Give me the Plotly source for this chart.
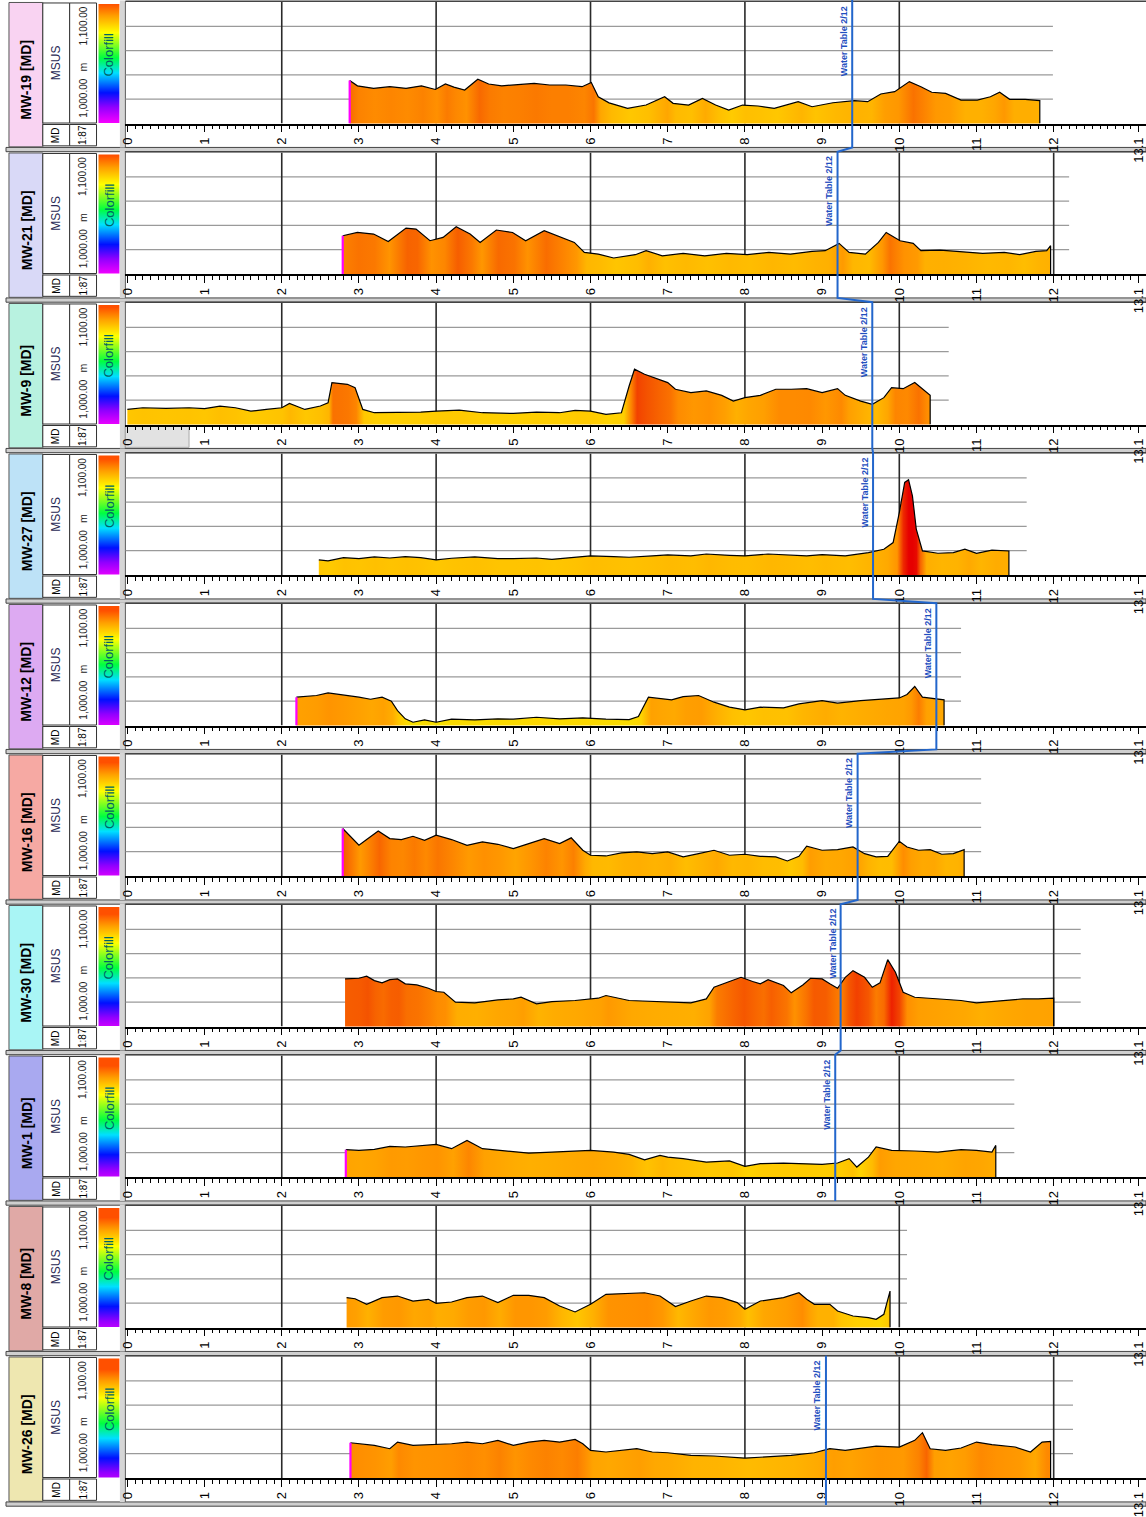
import plotly.graph_objects as go

W, H = 1146, 1517
NP = 10
PH = H / NP

WELLS = ["MW-19", "MW-21", "MW-9", "MW-27", "MW-12", "MW-16", "MW-30", "MW-1", "MW-8", "MW-26"]
HEADER_FILL = ["#F9D3F2", "#D9D9F7", "#B8F2E0", "#BDE2F7", "#DDAAF2",
               "#F6A9A3", "#A9F5F5", "#A9A9F0", "#E0A9A6", "#EEE7B0"]
WATER_TABLE = [9.39, 9.20, 9.65, 9.66, 10.48, 9.46, 9.24, 9.17, None, 9.05]
TRACK_END = [11.99, 12.2, 10.64, 11.65, 10.8, 11.06, 12.35, 11.49, 10.1, 12.25]
START_MARK = [True, True, False, False, True, True, False, True, False, True]

TICK_VALS = [0, 1, 2, 3, 4, 5, 6, 7, 8, 9, 10, 11, 12, 13.1]
TICK_TEXT = ["0", "1", "2", "3", "4", "5", "6", "7", "8", "9", "10", "11", "12", "13.1"]
GRID_VALUES = [1020, 1040, 1060, 1080]
MAJOR_DEPTHS = [2, 4, 6, 8, 10, 12]

MW19_DEPTH = [2.88, 2.98, 3.19, 3.40, 3.61, 3.81, 3.99, 4.12, 4.23, 4.37, 4.54, 4.68, 4.85, 5.06, 5.27, 5.47, 5.68,
              5.89, 6.01, 6.10, 6.24, 6.48, 6.72, 6.96, 7.07, 7.27, 7.45, 7.62, 7.79, 7.97, 8.17, 8.38, 8.69, 8.87,
              9.14, 9.42, 9.59, 9.76, 9.94, 10.13, 10.28, 10.42, 10.60, 10.80, 11.01, 11.18, 11.30, 11.43, 11.63, 11.82]
MW19_MSUS = [1035.3, 1031.0, 1029.0, 1030.3, 1029.0, 1031.0, 1028.0, 1032.5, 1030.0, 1027.6, 1036.4, 1032.5, 1031.0,
             1031.7, 1033.0, 1031.7, 1031.7, 1030.3, 1033.7, 1022.0, 1017.0, 1012.4, 1015.2, 1022.0, 1016.6, 1015.2,
             1020.7, 1015.2, 1011.0, 1015.2, 1014.4, 1012.4, 1018.0, 1013.8, 1017.1, 1018.8, 1018.0, 1024.3, 1026.2,
             1034.5, 1030.3, 1025.7, 1024.8, 1019.3, 1019.3, 1022.0, 1025.7, 1019.9, 1019.9, 1018.8]

MW21_DEPTH = [2.79, 2.98, 3.19, 3.38, 3.61, 3.74, 3.92, 4.09, 4.26, 4.44, 4.57, 4.78, 4.99, 5.16, 5.40, 5.61, 5.79,
              5.92, 6.10, 6.30, 6.58, 6.72, 6.93, 7.20, 7.48, 7.76, 8.03, 8.31, 8.59, 8.87, 9.04, 9.22, 9.35, 9.56,
              9.73, 9.83, 10.01, 10.18, 10.28, 10.53, 10.80, 11.08, 11.36, 11.56, 11.77, 11.91, 11.96]
MW21_MSUS = [1031.5, 1034.2, 1032.9, 1026.8, 1037.8, 1037.0, 1027.4, 1030.1, 1038.9, 1032.9, 1026.0, 1036.2, 1034.2,
             1027.4, 1035.6, 1030.7, 1026.0, 1017.8, 1016.4, 1013.2, 1015.9, 1019.2, 1015.0, 1017.0, 1015.0, 1017.0,
             1015.9, 1017.8, 1016.4, 1018.6, 1019.2, 1025.2, 1017.8, 1016.4, 1026.0, 1034.2, 1027.4, 1025.2, 1019.2,
             1019.7, 1018.6, 1017.0, 1017.8, 1015.9, 1018.6, 1019.2, 1023.3]

MW9_DEPTH = [0.0, 0.2, 0.5, 0.8, 1.0, 1.2, 1.4, 1.6, 1.8, 2.0, 2.1, 2.3, 2.5, 2.6, 2.65, 2.75, 2.85, 2.95, 3.05, 3.2,
             3.5, 3.8, 4.0, 4.3, 4.6, 5.0, 5.3, 5.6, 5.8, 6.0, 6.2, 6.4, 6.5, 6.57, 6.7, 6.85, 7.0, 7.1, 7.3, 7.5,
             7.7, 7.85, 8.0, 8.2, 8.4, 8.6, 8.8, 9.0, 9.2, 9.3, 9.5, 9.65, 9.8, 9.9, 10.05, 10.2, 10.3, 10.4]
MW9_MSUS = [1012.4, 1013.8, 1013.2, 1013.8, 1013.0, 1015.2, 1013.8, 1011.0, 1012.4, 1013.8, 1017.4, 1012.4, 1015.2,
            1017.9, 1034.5, 1033.9, 1033.1, 1030.3, 1012.4, 1009.7, 1009.7, 1010.2, 1011.0, 1011.9, 1009.7, 1009.1,
            1010.2, 1009.7, 1011.6, 1011.0, 1008.3, 1009.7, 1031.7, 1045.5, 1041.4, 1037.8, 1034.5, 1029.0, 1026.2,
            1027.6, 1024.0, 1019.3, 1022.1, 1024.0, 1029.0, 1029.0, 1029.5, 1026.2, 1029.5, 1024.0, 1019.3, 1016.6,
            1022.1, 1030.3, 1029.5, 1034.5, 1029.0, 1024.0]

MW27_DEPTH = [2.48, 2.6, 2.8, 3.0, 3.2, 3.4, 3.6, 3.8, 4.0, 4.2, 4.5, 4.8, 5.0, 5.3, 5.5, 5.8, 6.0, 6.3, 6.5, 6.8,
              7.0, 7.3, 7.5, 7.8, 8.0, 8.3, 8.5, 8.8, 9.0, 9.3, 9.6, 9.8, 9.92, 10.0, 10.07, 10.12, 10.17, 10.22,
              10.3, 10.5, 10.7, 10.85, 11.0, 11.2, 11.42]
MW27_MSUS = [1012.4, 1011.6, 1014.3, 1013.5, 1014.9, 1014.0, 1015.1, 1014.3, 1012.4, 1013.8, 1014.9, 1013.5, 1013.5,
             1014.0, 1012.9, 1014.3, 1015.7, 1015.1, 1014.6, 1015.7, 1016.5, 1015.7, 1017.3, 1016.2, 1015.7, 1017.3,
             1016.8, 1015.7, 1016.8, 1015.7, 1018.4, 1021.2, 1026.7, 1051.4, 1076.2, 1078.4, 1065.2, 1037.7, 1019.8,
             1017.9, 1018.4, 1021.2, 1017.9, 1020.4, 1019.8]

MW12_DEPTH = [2.19, 2.3, 2.45, 2.6, 2.8, 3.0, 3.15, 3.3, 3.42, 3.5, 3.6, 3.7, 3.85, 4.0, 4.2, 4.5, 4.8, 5.0, 5.3, 5.6,
              5.9, 6.2, 6.5, 6.62, 6.75, 6.9, 7.05, 7.2, 7.4, 7.6, 7.8, 8.0, 8.2, 8.5, 8.7, 9.0, 9.2, 9.5, 9.8, 10.0,
              10.1, 10.2, 10.3, 10.45, 10.58]
MW12_MSUS = [1023.3, 1023.8, 1024.7, 1026.8, 1025.2, 1023.3, 1021.6, 1023.3, 1020.0, 1012.3, 1005.5, 1002.7, 1004.7,
             1002.7, 1005.2, 1004.7, 1005.5, 1005.2, 1006.8, 1005.5, 1006.3, 1005.2, 1004.9, 1007.4, 1023.3, 1021.9,
             1021.1, 1023.8, 1024.7, 1019.2, 1015.1, 1012.9, 1015.1, 1014.5, 1017.8, 1020.5, 1018.4, 1020.5, 1021.9,
             1022.7, 1025.5, 1032.1, 1023.3, 1021.9, 1021.1]

MW16_DEPTH = [2.79, 2.9, 3.0, 3.1, 3.25, 3.4, 3.55, 3.7, 3.85, 4.0, 4.2, 4.4, 4.6, 4.8, 5.0, 5.2, 5.4, 5.6, 5.75, 5.9,
              6.0, 6.2, 6.4, 6.6, 6.8, 7.0, 7.2, 7.4, 7.6, 7.8, 8.0, 8.2, 8.4, 8.55, 8.7, 8.8, 9.0, 9.2, 9.4, 9.55,
              9.7, 9.85, 10.0, 10.1, 10.25, 10.4, 10.55, 10.7, 10.84]
MW16_MSUS = [1039.1, 1032.2, 1025.3, 1030.0, 1037.1, 1030.8, 1030.0, 1032.7, 1029.4, 1033.6, 1030.0, 1025.3, 1028.1,
             1026.1, 1022.6, 1026.7, 1030.8, 1026.7, 1031.4, 1021.2, 1017.1, 1016.5, 1019.0, 1019.8, 1018.4, 1019.8,
             1015.7, 1018.4, 1021.2, 1017.1, 1017.9, 1016.2, 1015.7, 1012.4, 1016.2, 1024.5, 1021.2, 1021.7, 1023.9,
             1018.4, 1015.7, 1016.2, 1028.6, 1023.9, 1021.2, 1021.7, 1017.9, 1018.4, 1021.7]

MW30_DEPTH = [2.82, 3.0, 3.1, 3.2, 3.3, 3.4, 3.5, 3.6, 3.75, 3.9, 4.0, 4.1, 4.25, 4.5, 4.8, 5.0, 5.1, 5.3, 5.5, 5.8,
              6.1, 6.2, 6.5, 6.8, 7.0, 7.3, 7.5, 7.6, 7.8, 7.95, 8.1, 8.2, 8.3, 8.5, 8.6, 8.75, 8.85, 9.0, 9.1, 9.2,
              9.3, 9.4, 9.55, 9.65, 9.75, 9.85, 9.95, 10.05, 10.2, 10.5, 10.8, 11.0, 11.3, 11.6, 11.8, 12.0]
MW30_MSUS = [1039.2, 1039.7, 1041.4, 1037.8, 1035.9, 1038.6, 1039.2, 1035.1, 1034.2, 1031.5, 1028.8, 1028.2, 1020.0,
             1019.5, 1021.9, 1022.7, 1024.1, 1018.6, 1020.5, 1021.4, 1023.3, 1025.5, 1021.4, 1020.5, 1020.0, 1019.5,
             1022.7, 1032.3, 1037.0, 1040.5, 1037.0, 1035.1, 1038.6, 1033.7, 1027.7, 1034.2, 1039.7, 1039.2, 1035.1,
             1031.5, 1040.5, 1046.0, 1040.5, 1032.3, 1035.9, 1055.0, 1044.7, 1028.2, 1024.1, 1022.7, 1021.4, 1019.5,
             1021.4, 1022.7, 1022.7, 1023.3]

MW1_DEPTH = [2.83, 3.0, 3.2, 3.4, 3.6, 3.8, 4.0, 4.2, 4.4, 4.6, 4.8, 5.0, 5.2, 5.5, 5.8, 6.0, 6.3, 6.5, 6.7, 6.9,
             7.0, 7.2, 7.5, 7.8, 8.0, 8.2, 8.5, 8.8, 9.0, 9.2, 9.35, 9.45, 9.6, 9.7, 9.9, 10.2, 10.5, 10.8, 11.0,
             11.2, 11.25]
MW1_MSUS = [1022.5, 1021.9, 1022.7, 1025.2, 1024.7, 1026.0, 1026.8, 1023.3, 1030.1, 1023.3, 1021.9, 1020.5, 1019.7,
            1020.5, 1021.4, 1021.9, 1020.5, 1018.6, 1014.2, 1017.8, 1016.4, 1015.1, 1012.3, 1013.2, 1008.8, 1011.0,
            1011.5, 1011.0, 1010.4, 1011.5, 1015.1, 1008.2, 1016.4, 1024.7, 1021.9, 1021.4, 1020.5, 1022.5, 1021.9,
            1020.5, 1026.0]

MW8_DEPTH = [2.84, 2.95, 3.1, 3.3, 3.5, 3.7, 3.9, 4.0, 4.2, 4.4, 4.6, 4.8, 5.0, 5.2, 5.4, 5.6, 5.8, 6.0, 6.2, 6.5,
             6.7, 6.9, 7.1, 7.3, 7.5, 7.7, 7.9, 8.0, 8.2, 8.5, 8.7, 8.8, 8.9, 9.1, 9.2, 9.4, 9.6, 9.7, 9.8, 9.88]
MW8_MSUS = [1024.6, 1023.7, 1019.1, 1024.6, 1025.9, 1021.8, 1023.2, 1019.9, 1021.0, 1024.6, 1025.9, 1020.5, 1026.5,
            1026.5, 1024.6, 1017.7, 1012.8, 1019.1, 1027.3, 1028.1, 1028.6, 1025.9, 1017.2, 1021.8, 1025.9, 1024.6,
            1020.5, 1015.0, 1021.8, 1024.6, 1028.6, 1023.2, 1019.1, 1019.1, 1013.6, 1009.5, 1008.2, 1006.8, 1010.9,
            1030.0]

MW26_DEPTH = [2.89, 3.0, 3.2, 3.4, 3.5, 3.7, 4.0, 4.2, 4.4, 4.6, 4.8, 5.0, 5.2, 5.4, 5.6, 5.8, 5.9, 6.0, 6.2, 6.4,
              6.6, 6.8, 7.0, 7.3, 7.6, 8.0, 8.3, 8.6, 8.9, 9.1, 9.3, 9.5, 9.7, 10.0, 10.2, 10.3, 10.4, 10.6, 10.8,
              11.0, 11.2, 11.5, 11.7, 11.85, 11.96]
MW26_MSUS = [1029.0, 1028.2, 1026.8, 1024.1, 1029.6, 1026.8, 1027.4, 1028.2, 1029.6, 1028.2, 1031.0, 1026.8, 1029.6,
             1031.0, 1029.6, 1031.8, 1028.2, 1022.7, 1021.4, 1022.7, 1024.1, 1021.4, 1020.8, 1018.6, 1018.1, 1016.4,
             1017.3, 1018.6, 1020.8, 1024.1, 1022.7, 1024.7, 1026.3, 1025.5, 1031.0, 1037.3, 1024.1, 1022.7, 1024.7,
             1029.6, 1027.4, 1025.5, 1021.4, 1029.6, 1030.1]

DEPTHS = [MW19_DEPTH, MW21_DEPTH, MW9_DEPTH, MW27_DEPTH, MW12_DEPTH, MW16_DEPTH, MW30_DEPTH, MW1_DEPTH, MW8_DEPTH, MW26_DEPTH]
VALUES = [MW19_MSUS, MW21_MSUS, MW9_MSUS, MW27_MSUS, MW12_MSUS, MW16_MSUS, MW30_MSUS, MW1_MSUS, MW8_MSUS, MW26_MSUS]

# colour styling of the fill (value above 1000 -> colour)
VAL_STOPS = [0, 8, 15, 22, 28, 34, 42, 52, 70]
VAL_COLORS = ["#F2E600", "#FFD400", "#FFC000", "#FFA600", "#FF9000", "#FA7400", "#F45000", "#EE2800", "#E60000"]
RAINBOW = [[0, "#FF00FF"], [0.14, "#9000FF"], [0.26, "#0010FF"], [0.425, "#00E0FF"], [0.55, "#00FF40"],
           [0.76, "#FFFF00"], [0.9, "#FFA000"], [1, "#FF5000"]]

NARROW = "Liberation Sans Narrow, Arial Narrow, Liberation Sans, sans-serif"
SANS = "Liberation Sans, Arial, sans-serif"
WT_COLOR = "#2266CC"


def hex_rgb(h):
    return tuple(int(h[k:k + 2], 16) for k in (1, 3, 5))


def val_color(v):
    o = v - 1000
    if o <= VAL_STOPS[0]:
        return VAL_COLORS[0]
    for k in range(1, len(VAL_STOPS)):
        if o <= VAL_STOPS[k]:
            t = (o - VAL_STOPS[k - 1]) / (VAL_STOPS[k] - VAL_STOPS[k - 1])
            a = hex_rgb(VAL_COLORS[k - 1])
            b = hex_rgb(VAL_COLORS[k])
            return "rgb(%d,%d,%d)" % tuple(round(a[j] + (b[j] - a[j]) * t) for j in range(3))
    return VAL_COLORS[-1]


def py(p):
    return 1 - p / H


def px(p):
    return p / W


PX_PER_UNIT = 77.6
X_ZERO_PX = 122
X_LEFT_PX = 120
XR = [(X_LEFT_PX - X_ZERO_PX) / PX_PER_UNIT, (W - X_ZERO_PX) / PX_PER_UNIT]

fig = go.Figure()
shapes = []
annotations = []
axes = {}


def ann(text, x, y, size, color="#000", yanchor="middle", family=NARROW):
    annotations.append(dict(text=text, xref="paper", yref="paper", x=px(x), y=py(y), xanchor="center",
                            yanchor=yanchor, textangle=-90, showarrow=False,
                            font=dict(family=family, size=size, color=color)))


for i in range(NP):
    n = "" if i == 0 else str(i + 1)
    T = i * PH
    base = T + 124.5
    top = T + 2.0
    axes["xaxis" + n] = dict(
        domain=[X_LEFT_PX / W, 1], range=XR, anchor="y" + n, tickmode="array",
        tickvals=TICK_VALS, ticktext=TICK_TEXT, tickangle=-90, ticks="outside", ticklen=7,
        tickcolor="#000", tickwidth=1, showline=True, linecolor="#000", linewidth=1.5,
        showgrid=False, zeroline=False, fixedrange=True,
        tickfont=dict(family=SANS, size=13, color="#000"),
        minor=dict(ticks="outside", ticklen=4, tickcolor="#000", tickwidth=1,
                   tickmode="linear", tick0=0, dtick=0.1, showgrid=False),
    )
    axes["yaxis" + n] = dict(domain=[py(base), py(top)], range=[1000, 1100], anchor="x" + n,
                             visible=False, fixedrange=True)

    d = DEPTHS[i]
    v = VALUES[i]
    span = d[-1] - d[0]
    cs = [[(dd - d[0]) / span, val_color(vv)] for dd, vv in zip(d, v)]
    cs[0][0] = 0.0
    cs[-1][0] = 1.0
    fig.add_trace(go.Scatter(
        x=d + [d[-1]], y=v + [1000], xaxis="x" + n, yaxis="y" + n, mode="lines",
        line=dict(color="black", width=1.2), fill="tozeroy",
        fillgradient=dict(type="horizontal", start=d[0], stop=d[-1], colorscale=cs),
        hoverinfo="skip", showlegend=False))
    if START_MARK[i]:
        fig.add_trace(go.Scatter(x=[d[0], d[0]], y=[1000, v[0]], xaxis="x" + n, yaxis="y" + n,
                                 mode="lines", line=dict(color="#FF00FF", width=2.2),
                                 hoverinfo="skip", showlegend=False))

    # grid lines
    for g in GRID_VALUES:
        shapes.append(dict(type="line", xref="x" + n, yref="y" + n, x0=XR[0], x1=TRACK_END[i], y0=g, y1=g,
                           line=dict(color="#9A9A9A", width=1.2), layer="below"))
    for k in MAJOR_DEPTHS:
        if k < TRACK_END[i]:
            shapes.append(dict(type="line", xref="x" + n, yref="y" + n, x0=k, x1=k, y0=1000, y1=1100,
                               line=dict(color="#2A2A2A", width=1.6), layer="below"))

    # panel separator band and borders
    shapes.append(dict(type="rect", xref="paper", yref="paper", x0=0, x1=1, y0=py(T + PH + 1.2), y1=py(T + 148.6),
                       fillcolor="#CFCFCF", line=dict(color="#444", width=1), layer="below"))
    shapes.append(dict(type="line", xref="paper", yref="paper", x0=px(X_LEFT_PX), x1=1, y0=py(T + 1.2), y1=py(T + 1.2),
                       line=dict(color="#444", width=1.5), layer="below"))
    shapes.append(dict(type="rect", xref="paper", yref="paper", x0=px(114.5), x1=px(119.5), y0=py(T + 148.6),
                       y1=py(T + 0.5), fillcolor="#D6D6D6", line=dict(width=0), layer="below"))
    shapes.append(dict(type="line", xref="paper", yref="paper", x0=px(X_LEFT_PX), x1=px(X_LEFT_PX),
                       y0=py(T + 148.6), y1=py(T + 1.2), line=dict(color="#555", width=1), layer="below"))

    # header boxes
    shapes.append(dict(type="rect", xref="paper", yref="paper", x0=px(3), x1=px(37), y0=py(T + 148), y1=py(T + 2.5),
                       fillcolor=HEADER_FILL[i], line=dict(color="#555", width=1), layer="below"))
    for (a, b) in [(37, 64), (64, 91)]:
        shapes.append(dict(type="rect", xref="paper", yref="paper", x0=px(a), x1=px(b), y0=py(T + 124),
                           y1=py(T + 3), fillcolor="white", line=dict(color="#333", width=1), layer="below"))
        shapes.append(dict(type="rect", xref="paper", yref="paper", x0=px(a), x1=px(b), y0=py(T + 147),
                           y1=py(T + 125.5), fillcolor="white", line=dict(color="#333", width=1), layer="below"))

    fig.add_trace(go.Scatter(
        x=[93, 114, 114, 93, 93], y=[T + 124, T + 124, T + 4, T + 4, T + 124], xaxis="x11", yaxis="y11",
        mode="lines", line=dict(width=0, color="rgba(0,0,0,0)"), fill="toself",
        fillgradient=dict(type="vertical", start=T + 124, stop=T + 4, colorscale=RAINBOW),
        hoverinfo="skip", showlegend=False))

    # header texts
    ann("<b>%s [MD]</b>" % WELLS[i], 20.5, T + 80, 14)
    ann("MSUS", 50.5, T + 63.5, 12, "#2A2A55")
    ann("1,000.00", 77.5, T + 121, 10, "#222", "bottom")
    ann("m", 77.5, T + 68, 10.5, "#222")
    ann("1,100.00", 77.5, T + 5, 10, "#222", "top")
    ann("Colorfill", 103.5, T + 55, 13, "#006464")
    ann("MD", 50.5, T + 136, 10)
    ann("1:87", 77.5, T + 136, 10)

    # water table label
    if WATER_TABLE[i] is not None:
        annotations.append(dict(text="<b>Water Table 2/12</b>", xref="x" + n, yref="paper", x=WATER_TABLE[i],
                                y=py(T + 4), xanchor="right", yanchor="top", xshift=-1, textangle=-90,
                                showarrow=False, font=dict(family=NARROW, size=9, color="#1F4FC0")))

# shaded label box on MW-9 track
T9 = WELLS.index("MW-9") * PH
shapes.append(dict(type="rect", xref="paper", yref="paper", x0=px(X_LEFT_PX), x1=px(184), y0=py(T9 + 147.5),
                   y1=py(T9 + 126.5), fillcolor="#E2E2E2", line=dict(color="#AAA", width=1), layer="below"))


# water table polylines (connected between consecutive wells that have one)
def wt_path(indices):
    pts = []
    for j, idx in enumerate(indices):
        T = idx * PH
        y_top = 0 if idx == 0 else T + 1.2
        pts.append((WATER_TABLE[idx], y_top))
        pts.append((WATER_TABLE[idx], T + 148.6))
    return "M " + " L ".join("%.4f,%.6f" % (xx, py(yy)) for xx, yy in pts)


groups = []
cur = []
for i in range(NP):
    if WATER_TABLE[i] is None:
        if cur:
            groups.append(cur)
        cur = []
    else:
        cur.append(i)
if cur:
    groups.append(cur)
for grp in groups:
    last = grp[-1]
    path = wt_path(grp)
    if last == NP - 1:
        path += " L %.4f,%.6f" % (WATER_TABLE[last], 0)
    shapes.append(dict(type="path", xref="x", yref="paper", path=path,
                       line=dict(color=WT_COLOR, width=2), layer="above"))

axes["xaxis11"] = dict(domain=[0, 1], range=[0, W], anchor="y11", visible=False, fixedrange=True)
axes["yaxis11"] = dict(domain=[0, 1], range=[H, 0], anchor="x11", visible=False, fixedrange=True)

fig.update_layout(
    width=W, height=H, margin=dict(l=0, r=0, t=0, b=0),
    paper_bgcolor="white", plot_bgcolor="rgba(0,0,0,0)", showlegend=False,
    shapes=shapes, annotations=annotations, **axes)

fig.write_html("out.html")
